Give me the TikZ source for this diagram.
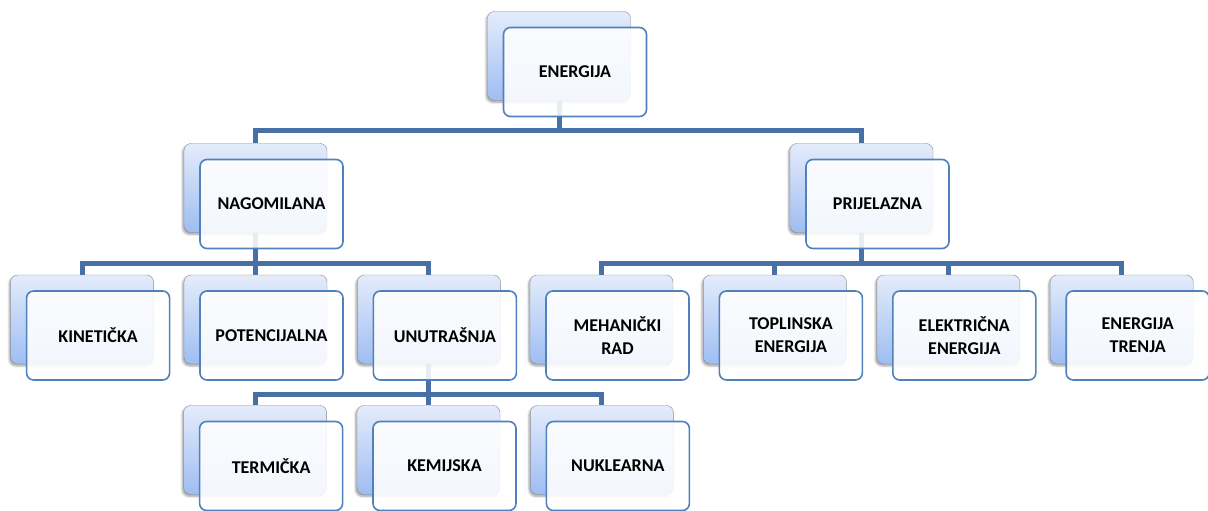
\documentclass[tikz,border=0pt]{standalone}
\usepackage{fontspec}
\setmainfont{Carlito}
\usepackage{xcolor}
\usepackage{tikz}
\usetikzlibrary{positioning, backgrounds, shadows.blur}
\definecolor{boxtop}{RGB}{228,236,251}
\definecolor{boxbottom}{RGB}{158,189,242}
\definecolor{boxgray}{RGB}{138,138,138}
\definecolor{boxblue}{RGB}{79,129,189}
\definecolor{linkblue}{RGB}{72,112,166}

\begin{document}
\begin{tikzpicture}[
        x=1pt, y=-1pt,
        every node/.style={rounded corners=7pt, minimum width=143pt, minimum height=89pt, inner sep=2pt},
        back/.style={draw=boxgray, thin, top color=boxtop, bottom color=boxbottom, blur shadow={shadow xshift=-1.5pt, shadow yshift=-2pt, shadow blur steps=5, shadow opacity=35}},
        front/.style={draw=boxblue, line width=1.6pt, fill=white, fill opacity=0.88, text opacity=1, align=center, font=\bfseries\fontsize{18}{23}\selectfont},
        link/.style={draw=linkblue, line width=5pt},
        ]
      \useasboundingbox (0,0) rectangle (1208,511);

      % top
      \node [back] (energija-b) at (559,56) {};
      \node [front] (energija) at ([shift={(16,16)}]energija-b) {ENERGIJA};

      % second row
      \node [back] (nagomilana-b) at (255.5,188) {};
      \node [front] (nagomilana) at ([shift={(16,16)}]nagomilana-b) {NAGOMILANA};
      \node [back] (prijelazna-b) at (861.5,188) {};
      \node [front] (prijelazna) at ([shift={(16,16)}]prijelazna-b) {PRIJELAZNA};

      % third row, left
      \node [back] (potencijalna-b) at (255.5,319.5) {};
      \node [front] (potencijalna) at ([shift={(16,16)}]potencijalna-b) {POTENCIJALNA};
      \node [back, left=30pt of potencijalna-b] (kineticka-b) {};
      \node [front] (kineticka) at ([shift={(16,16)}]kineticka-b) {KINETIČKA};
      \node [back, right=30pt of potencijalna-b] (unutrasnja-b) {};
      \node [front] (unutrasnja) at ([shift={(16,16)}]unutrasnja-b) {UNUTRAŠNJA};

      % third row, right
      \node [back] (mehanicki-b) at (601.5,319.5) {};
      \node [front] (mehanicki) at ([shift={(16,16)}]mehanicki-b) {MEHANIČKI\\RAD};
      \node [back, right=30pt of mehanicki-b] (toplinska-b) {};
      \node [front] (toplinska) at ([shift={(16,16)}]toplinska-b) {TOPLINSKA\\ENERGIJA};
      \node [back, right=30pt of toplinska-b] (elektricna-b) {};
      \node [front] (elektricna) at ([shift={(16,16)}]elektricna-b) {ELEKTRIČNA\\ENERGIJA};
      \node [back, right=30pt of elektricna-b] (trenja-b) {};
      \node [front] (trenja) at ([shift={(16,16)}]trenja-b) {ENERGIJA\\TRENJA};

      % fourth row
      \node [back] (kemijska-b) at (428.5,450) {};
      \node [front] (kemijska) at ([shift={(16,16)}]kemijska-b) {KEMIJSKA};
      \node [back, left=30pt of kemijska-b] (termicka-b) {};
      \node [front] (termicka) at ([shift={(16,16)}]termicka-b) {TERMIČKA};
      \node [back, right=30pt of kemijska-b] (nuklearna-b) {};
      \node [front] (nuklearna) at ([shift={(16,16)}]nuklearna-b) {NUKLEARNA};

      \begin{scope}[on background layer]
        \draw[link] (energija-b.south) -- ++(0,30) -| (nagomilana-b.north);
        \draw[link] (energija-b.south) -- ++(0,30) -| (prijelazna-b.north);
        \draw[link] (nagomilana-b.south) -- ++(0,31) -| (kineticka-b.north);
        \draw[link] (nagomilana-b.south) -- ++(0,31) -| (potencijalna-b.north);
        \draw[link] (nagomilana-b.south) -- ++(0,31) -| (unutrasnja-b.north);
        \draw[link] (prijelazna-b.south) -- ++(0,31) -| (mehanicki-b.north);
        \draw[link] (prijelazna-b.south) -- ++(0,31) -| (toplinska-b.north);
        \draw[link] (prijelazna-b.south) -- ++(0,31) -| (elektricna-b.north);
        \draw[link] (prijelazna-b.south) -- ++(0,31) -| (trenja-b.north);
        \draw[link] (unutrasnja-b.south) -- ++(0,30) -| (termicka-b.north);
        \draw[link] (unutrasnja-b.south) -- ++(0,30) -| (kemijska-b.north);
        \draw[link] (unutrasnja-b.south) -- ++(0,30) -| (nuklearna-b.north);
      \end{scope}
    \end{tikzpicture}
\end{document}
